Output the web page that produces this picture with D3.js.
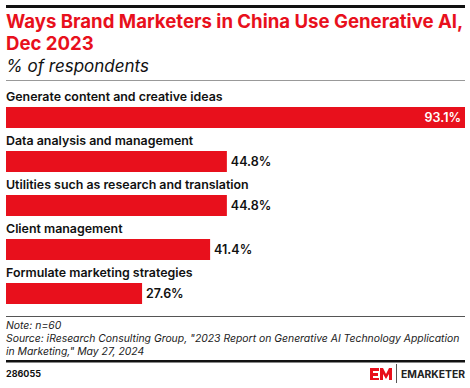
<!DOCTYPE html>
<html>
<head>
<meta charset="utf-8">
<script src="https://cdn.jsdelivr.net/npm/d3@7"></script>
<style>
  body { margin: 0; background: #fff; }
  svg { display: block; font-family: Inter, "Noto Sans", sans-serif; }
</style>
</head>
<body>
<svg id="chart" width="470" height="388"></svg>
<script>
// data
const categories = [
  'Generate content and creative ideas',
  'Data analysis and management',
  'Utilities such as research and translation',
  'Client management',
  'Formulate marketing strategies',
];
const values = [93.1, 44.8, 44.8, 41.4, 27.6];
const valueLabels = ['93.1%', '44.8%', '44.8%', '41.4%', '27.6%'];

const red = '#e8101c';
const svg = d3.select('#chart');
const left = 6;
const right = 465;

// header
svg.append('rect').attr('x', left).attr('y', 5).attr('width', right - left).attr('height', 3).attr('fill', '#111');

const title = svg.append('text')
  .attr('fill', red)
  .attr('font-size', 18.6)
  .attr('font-weight', 700);
title.append('tspan').attr('x', left).attr('y', 28).text('Ways Brand Marketers in China Use Generative AI,');
title.append('tspan').attr('x', left).attr('y', 50).text('Dec 2023');

svg.append('text')
  .attr('x', left).attr('y', 72)
  .attr('font-size', 17)
  .attr('font-style', 'italic')
  .attr('fill', '#111')
  .text('% of respondents');

svg.append('rect').attr('x', left).attr('y', 80).attr('width', right - left).attr('height', 1).attr('fill', '#999');

// bars
const x = d3.scaleLinear().domain([0, d3.max(values)]).range([left, right]);
const y = d3.scaleBand().domain(categories).range([85, 305]).paddingInner(0).paddingOuter(0);
const barH = 21;
const barOffset = 22;

const rows = svg.append('g')
  .selectAll('g')
  .data(categories)
  .join('g')
  .attr('transform', (d) => `translate(0,${y(d)})`);

rows.append('text')
  .attr('x', left)
  .attr('y', 16)
  .attr('font-size', 12.4)
  .attr('font-weight', 600)
  .attr('fill', '#111')
  .text((d) => d);

rows.append('rect')
  .attr('x', x(0))
  .attr('y', barOffset)
  .attr('width', (d, i) => x(values[i]) - x(0))
  .attr('height', barH)
  .attr('fill', red);

rows.append('text')
  .attr('y', barOffset + barH / 2 + 4.5)
  .attr('font-size', 12.5)
  .attr('font-weight', 600)
  .each(function (d, i) {
    const end = x(values[i]);
    const inside = end > 400;
    d3.select(this)
      .attr('x', inside ? end - 4 : end + 4)
      .attr('text-anchor', inside ? 'end' : 'start')
      .attr('fill', inside ? '#fff' : '#111');
  })
  .text((d, i) => valueLabels[i]);

// footer
svg.append('rect').attr('x', left).attr('y', 316).attr('width', right - left).attr('height', 1).attr('fill', '#555');

const notes = [
  'Note: n=60',
  'Source: iResearch Consulting Group, "2023 Report on Generative AI Technology Application',
  'in Marketing," May 27, 2024',
];
svg.append('g')
  .selectAll('text')
  .data(notes)
  .join('text')
  .attr('x', left)
  .attr('y', (d, i) => 329 + i * 13)
  .attr('font-size', 10.4)
  .attr('font-style', 'italic')
  .attr('fill', '#222')
  .text((d) => d);

svg.append('rect').attr('x', left).attr('y', 360).attr('width', right - left).attr('height', 2.5).attr('fill', '#111');

svg.append('text')
  .attr('x', left).attr('y', 377)
  .attr('font-size', 9)
  .attr('font-weight', 700)
  .attr('fill', '#111')
  .text('286055');

// logo
const logo = svg.append('g').attr('transform', 'translate(370,368)');
logo.append('path')
  .attr('d', 'M0,0H9V3H3V5H8V8H3V10H9V12H0Z M10,12V0H13L16,6L19,0H22V12H19V6L16,11L13,6V12Z')
  .attr('fill', red);
logo.append('rect').attr('x', 26).attr('y', -4).attr('width', 1).attr('height', 19).attr('fill', '#555');
logo.append('text')
  .attr('x', 31).attr('y', 10)
  .attr('font-size', 10.5)
  .attr('font-weight', 700)
  .attr('textLength', 64)
  .attr('lengthAdjust', 'spacingAndGlyphs')
  .attr('fill', '#222')
  .text('EMARKETER');
</script>
</body>
</html>
